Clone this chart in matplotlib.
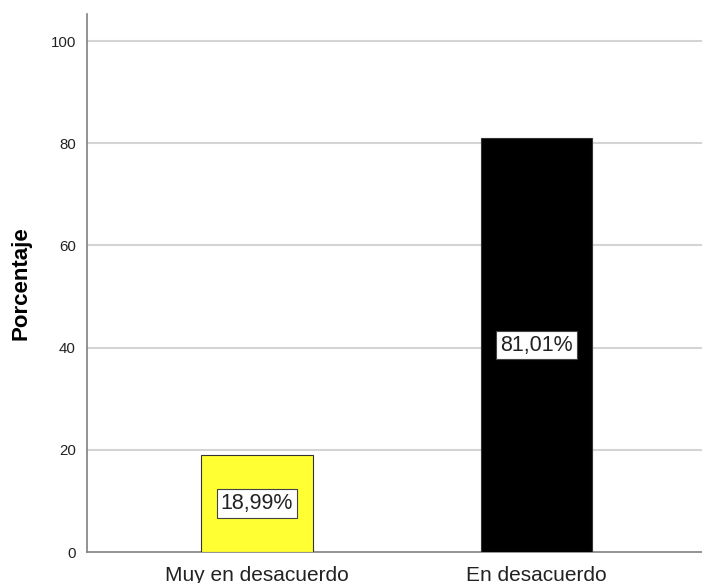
import matplotlib.pyplot as plt
import numpy as np

plt.rcParams['font.family'] = ['Liberation Sans', 'DejaVu Sans']

categories = ["Muy en desacuerdo", "En desacuerdo"]
percent = [18.99, 81.01]
labels = ["18,99%", "81,01%"]
colors = ["#ffff33", "#000000"]
yticks = [0, 20, 40, 60, 80, 100]

fig = plt.figure(figsize=(7.02, 5.83), dpi=100)
ax = fig.add_axes([87/702, 31/583, 615/702, 538/583])

x = np.arange(len(categories))
ax.bar(x, percent, width=0.40, color=colors, edgecolor="#333333",
       linewidth=0.8, zorder=3)

for xi, val, lab in zip(x, percent, labels):
    ax.text(xi, val/2, lab, ha="center", va="center", fontsize=15.5,
            color="#222222", zorder=4,
            bbox=dict(boxstyle="square,pad=0.18", fc="white",
                      ec="#444444", lw=0.8))

ax.set_xlim(-0.608, 1.592)
ax.set_ylim(0, 105.3)
ax.set_yticks(yticks)
ax.set_yticklabels([str(t) for t in yticks], fontsize=10.8, color="#222222")
ax.set_xticks(x)
ax.set_xticklabels(categories, fontsize=15, color="#222222")
ax.tick_params(axis="y", length=0, pad=8)
ax.tick_params(axis="x", length=0, pad=10)

for t in yticks[1:]:
    ax.axhline(t, color="#d4d4d4", lw=1.5, zorder=1)

ax.set_ylabel("Porcentaje", fontsize=16, fontweight="bold", labelpad=14)

for s in ["top", "right"]:
    ax.spines[s].set_visible(False)
for s in ["left", "bottom"]:
    ax.spines[s].set_color("#808080")
    ax.spines[s].set_linewidth(1.2)

fig.savefig("out.png", dpi=100)
